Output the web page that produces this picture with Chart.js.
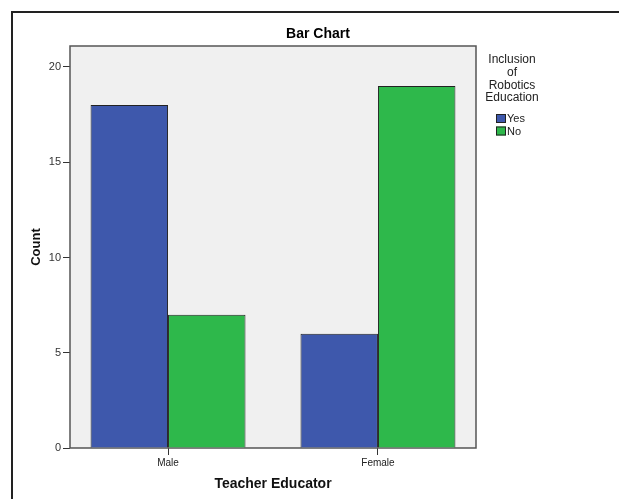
<!DOCTYPE html>
<html lang="en">

<head>
    <meta charset="UTF-8">
    <title>Bar Chart</title>
    <script src="https://cdn.jsdelivr.net/npm/chart.js"></script>
    <style>
        html, body { margin: 0; padding: 0; background: #fff; overflow: hidden; }
        .frame {
            position: absolute; left: 11px; top: 11px; width: 700px; height: 600px;
            border-top: 2px solid #222; border-left: 2px solid #222;
        }
        .grafico { position: absolute; left: 0; top: 0; width: 619px; height: 499px; }
    </style>
</head>

<body>
    <div class="frame"></div>
    <div class="grafico">
        <canvas id="myChart"></canvas>
    </div>

<script>
    // dados
    const categorias = ['Male', 'Female'];
    const serieNomes = ['Yes', 'No'];
    const valoresYes = [18, 6];
    const valoresNo = [7, 19];
    const cores = ['#3E58AC', '#2EB84B'];
    const tituloLegenda = ['Inclusion', 'of', 'Robotics', 'Education'];

    const fonte = "Arial, 'Liberation Sans', sans-serif";

    // fundo cinza e borda da area do grafico
    const fundoPlot = {
        id: 'fundoPlot',
        beforeDatasetsDraw(chart) {
            const a = chart.chartArea;
            const ctx = chart.ctx;
            ctx.save();
            ctx.fillStyle = '#F0F0F0';
            ctx.fillRect(a.left, a.top, a.right - a.left, a.bottom - a.top);
            ctx.strokeStyle = '#555';
            ctx.lineWidth = 1.5;
            ctx.strokeRect(a.left, a.top, a.right - a.left, a.bottom - a.top);
            ctx.restore();
        }
    };

    // titulo e legenda no estilo SPSS
    const legendaSpss = {
        id: 'legendaSpss',
        afterDraw(chart) {
            const ctx = chart.ctx;
            ctx.save();
            ctx.fillStyle = '#000';
            ctx.textAlign = 'center';
            ctx.textBaseline = 'middle';
            ctx.font = 'bold 14px ' + fonte;
            ctx.fillText('Bar Chart', 318, 34);

            ctx.font = '12px ' + fonte;
            ctx.fillStyle = '#222';
            tituloLegenda.forEach(function (t, i) {
                ctx.fillText(t, 512, 60 + i * 12.7);
            });

            ctx.textAlign = 'left';
            ctx.font = '11px ' + fonte;
            chart.data.datasets.forEach(function (ds, i) {
                const y = 114 + i * 12.5;
                ctx.fillStyle = ds.backgroundColor;
                ctx.fillRect(496, y, 10, 9);
                ctx.strokeStyle = '#222';
                ctx.lineWidth = 1;
                ctx.strokeRect(496.5, y + 0.5, 9, 8);
                ctx.fillStyle = '#222';
                ctx.fillText(ds.label, 507, y + 5);
            });
            ctx.restore();
        }
    };

    const data = {
        labels: categorias,
        datasets: [{
            label: serieNomes[0],
            backgroundColor: cores[0],
            borderColor: '#222',
            borderWidth: 1,
            data: valoresYes,
        }, {
            label: serieNomes[1],
            backgroundColor: cores[1],
            borderColor: '#222',
            borderWidth: 1,
            data: valoresNo,
        }]
    };

    const config = {
        type: 'bar',
        data: data,
        options: {
            responsive: true,
            maintainAspectRatio: false,
            animation: false,
            categoryPercentage: 0.738,
            barPercentage: 1,
            layout: { padding: { top: 46, right: 143, left: 0, bottom: 0 } },
            plugins: {
                legend: { display: false },
                title: { display: false },
                tooltip: { enabled: false }
            },
            scales: {
                x: {
                    offset: false,
                    // margem de 0.467 categoria em cada lado, como no SPSS
                    afterBuildTicks: function (s) {
                        s._startValue = -0.467;
                        s._valueRange = categorias.length - 1 + 0.934;
                    },
                    afterFit: function (s) { s.height = 51; },
                    grid: { display: true, drawOnChartArea: false, offset: false, tickLength: 7, color: '#333' },
                    border: { display: false },
                    ticks: { font: { family: fonte, size: 10 }, color: '#222', padding: 2 },
                    title: {
                        display: true, text: 'Teacher Educator', color: '#111',
                        font: { family: fonte, size: 14, weight: 'bold' },
                        padding: { top: 0, bottom: 6.8 }
                    }
                },
                y: {
                    min: 0,
                    max: 21.1,
                    afterFit: function (s) { s.width = 70; },
                    afterBuildTicks: function (s) {
                        s.ticks = [0, 5, 10, 15, 20].map(function (v) { return { value: v }; });
                    },
                    grid: { display: true, drawOnChartArea: false, tickLength: 7, color: '#333' },
                    border: { display: false },
                    ticks: { font: { family: fonte, size: 11 }, color: '#333', padding: 2 },
                    title: {
                        display: true, text: 'Count', color: '#111',
                        font: { family: fonte, size: 13, weight: 'bold' },
                        padding: { top: 29, bottom: 0 }
                    }
                }
            }
        },
        plugins: [fundoPlot, legendaSpss]
    };

    const myChart = new Chart(document.getElementById('myChart'), config);
</script>
</body>

</html>
